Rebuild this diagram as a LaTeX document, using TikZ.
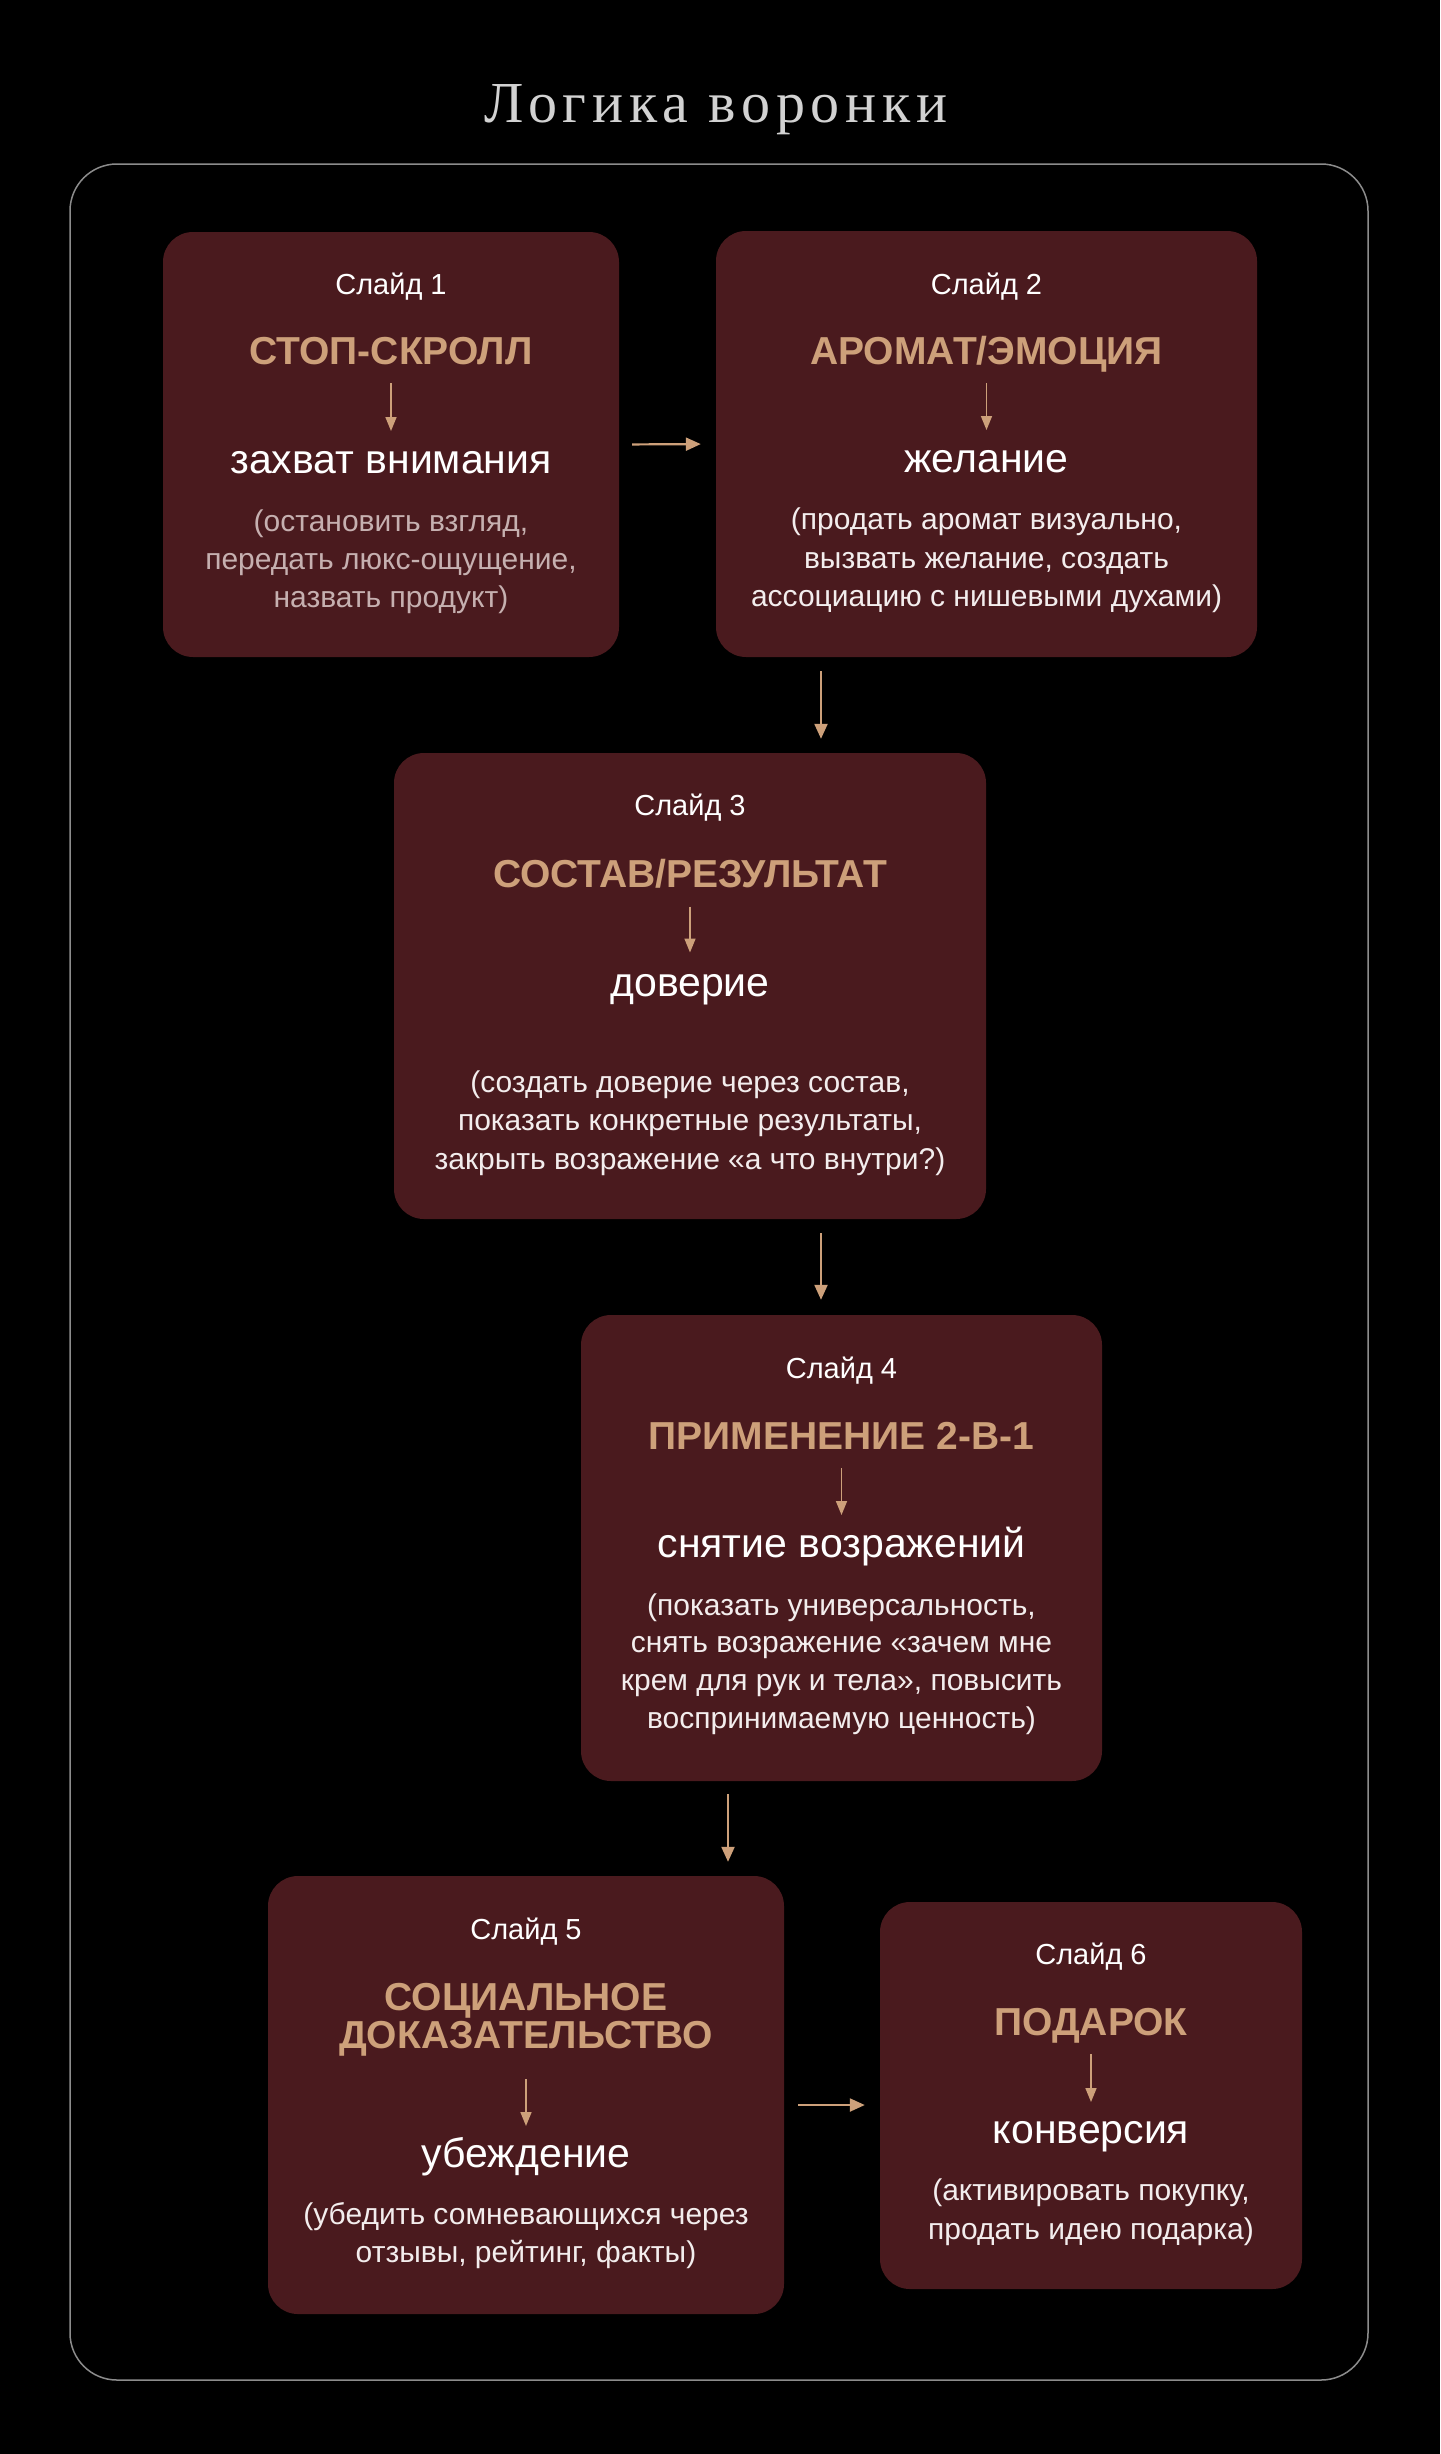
\documentclass[tikz,border=0pt]{standalone}
\usepackage{fontspec}
\setmainfont{Liberation Sans}
\newfontfamily\headfont[LetterSpace=10]{Liberation Serif}
\usetikzlibrary{arrows.meta}
\definecolor{boxfill}{HTML}{4A1A1E}
\definecolor{gold}{HTML}{CDA07A}
\definecolor{framegrey}{HTML}{8C8C8C}
\definecolor{headgrey}{HTML}{D2D2D2}
\definecolor{descwhite}{HTML}{F3EDED}
\definecolor{descgrey}{HTML}{C6B0B0}
\tikzset{
  box/.style={fill=boxfill, draw=none, rounded corners=30pt, inner sep=0pt},
  lbl/.style={anchor=base, inner sep=0pt, text=white, font=\fontsize{29}{34}\selectfont},
  ttl/.style={anchor=base, inner sep=0pt, text=gold, font=\fontsize{39}{44}\bfseries\selectfont},
  kw/.style={anchor=base, inner sep=0pt, text=white, font=\fontsize{41}{46}\selectfont},
  desc/.style={anchor=base, inner sep=0pt, text=descwhite, font=\fontsize{30}{36}\selectfont},
  descg/.style={desc, text=descgrey},
  flow/.style={draw=gold, line width=2.2pt, -{Triangle[length=15pt,width=13pt]}},
  inner/.style={draw=gold, line width=1.6pt, -{Triangle[length=14pt,width=11pt]}},
}
\begin{document}
\begin{tikzpicture}[x=1pt,y=-1pt]
\useasboundingbox (0,0) rectangle (1440,2454);
\fill[black] (0,0) rectangle (1440,2454);
% title and frame
\node[anchor=base, inner sep=0pt, text=headgrey, font=\headfont\fontsize{58}{64}\selectfont] (head) at (716,123) {Логика воронки};
\draw[framegrey, line width=1.5pt, rounded corners=47pt] (70,164) rectangle (1368,2380);
% boxes
\node[box, minimum width=456pt, minimum height=425pt] (b1) at (391,444.5) {};
\node[box, minimum width=541pt, minimum height=426pt] (b2) at (986.5,444) {};
\node[box, minimum width=592pt, minimum height=466pt] (b3) at (690,986) {};
\node[box, minimum width=521pt, minimum height=466pt] (b4) at (841.5,1548) {};
\node[box, minimum width=516pt, minimum height=438pt] (b5) at (526,2095) {};
\node[box, minimum width=422pt, minimum height=387pt] (b6) at (1091,2095.5) {};
% box 1
\node[lbl] (l1) at (391,294) {Слайд 1};
\node[ttl] (t1) at (391,364) {СТОП-СКРОЛЛ};
\node[kw]  (k1) at (391,473) {захват внимания};
\node[descg] (d1a) at (391,531) {(остановить взгляд,};
\node[descg] (d1b) at (391,569) {передать люкс-ощущение,};
\node[descg] (d1c) at (391,607) {назвать продукт)};
% box 2
\node[lbl] (l2) at (986.5,294) {Слайд 2};
\node[ttl] (t2) at (986.5,364) {АРОМАТ/ЭМОЦИЯ};
\node[kw]  (k2) at (986.5,472) {желание};
\node[desc] (d2a) at (986.5,529) {(продать аромат визуально,};
\node[desc] (d2b) at (986.5,568) {вызвать желание, создать};
\node[desc] (d2c) at (986.5,606) {ассоциацию с нишевыми духами)};
% box 3
\node[lbl] (l3) at (690,815) {Слайд 3};
\node[ttl] (t3) at (690,887) {СОСТАВ/РЕЗУЛЬТАТ};
\node[kw]  (k3) at (690,996) {доверие};
\node[desc] (d3a) at (690,1092) {(создать доверие через состав,};
\node[desc] (d3b) at (690,1130) {показать конкретные результаты,};
\node[desc] (d3c) at (690,1169) {закрыть возражение «а что внутри?)};
% box 4
\node[lbl] (l4) at (841.5,1378) {Слайд 4};
\node[ttl] (t4) at (841.5,1449) {ПРИМЕНЕНИЕ 2-В-1};
\node[kw]  (k4) at (841.5,1557) {снятие возражений};
\node[desc] (d4a) at (841.5,1615) {(показать универсальность,};
\node[desc] (d4b) at (841.5,1652) {снять возражение «зачем мне};
\node[desc] (d4c) at (841.5,1690) {крем для рук и тела», повысить};
\node[desc] (d4d) at (841.5,1728) {воспринимаемую ценность)};
% box 5
\node[lbl] (l5) at (526,1939) {Слайд 5};
\node[ttl] (t5a) at (526,2010) {СОЦИАЛЬНОЕ};
\node[ttl] (t5b) at (526,2048) {ДОКАЗАТЕЛЬСТВО};
\node[kw]  (k5) at (526,2167) {убеждение};
\node[desc] (d5a) at (526,2224) {(убедить сомневающихся через};
\node[desc] (d5b) at (526,2262) {отзывы, рейтинг, факты)};
% box 6
\node[lbl] (l6) at (1091,1964) {Слайд 6};
\node[ttl] (t6) at (1091,2035) {ПОДАРОК};
\node[kw]  (k6) at (1091,2143) {конверсия};
\node[desc] (d6a) at (1091,2200) {(активировать покупку,};
\node[desc] (d6b) at (1091,2239) {продать идею подарка)};
% arrows inside boxes
\draw[inner] ([yshift=-19pt]t1.base) -- ([yshift=42pt]k1.base);
\draw[inner] ([yshift=-19pt]t2.base) -- ([yshift=42pt]k2.base);
\draw[inner] ([yshift=-19.5pt]t3.base) -- ([yshift=43.5pt]k3.base);
\draw[inner] ([yshift=-19pt]t4.base) -- ([yshift=42pt]k4.base);
\draw[inner] ([yshift=-31pt]t5b.base) -- ([yshift=41pt]k5.base);
\draw[inner] ([yshift=-19pt]t6.base) -- ([yshift=41pt]k6.base);
% arrows between boxes
\coordinate (x23) at (821,0);
\coordinate (x45) at (728,0);
\coordinate (y56) at (0,2105);
\draw[flow, shorten <=13pt, shorten >=15pt] (b1.east) -- (b2.west);
\draw[flow, shorten <=14pt, shorten >=14pt] (b2.south -| x23) -- (b3.north -| x23);
\draw[flow, shorten <=14pt, shorten >=15pt] (b3.south -| x23) -- (b4.north -| x23);
\draw[flow, shorten <=13pt, shorten >=14pt] (b4.south -| x45) -- (b5.north -| x45);
\draw[flow, shorten <=14pt, shorten >=15pt] (b5.east |- y56) -- (b6.west |- y56);
\end{tikzpicture}
\end{document}
